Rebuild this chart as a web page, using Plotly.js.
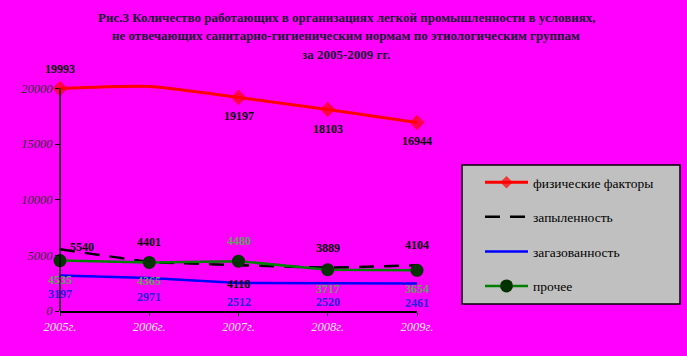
<!DOCTYPE html>
<html><head><meta charset="utf-8">
<script src="https://cdn.plot.ly/plotly-3.0.1.min.js"></script>
<style>html,body{margin:0;padding:0;background:#ff00ff}</style>
</head><body>
<div id="chart" style="width:687px;height:356px"></div>
<script>
// ---- data ----
const years = ['2005г.', '2006г.', '2007г.', '2008г.', '2009г.'];
const physical = [19993, 20180, 19197, 18103, 16944];
const physicalLabels = ['19993', '', '19197', '18103', '16944'];
const dust = [5540, 4401, 4118, 3889, 4104];
const gas = [3197, 2971, 2512, 2520, 2461];
const other = [4535, 4365, 4480, 3717, 3654];
const seriesNames = ['физические факторы', 'запыленность', 'загазованность', 'прочее'];
const titleLines = [
  'Рис.3 Количество работающих в организациях легкой промышленности в условиях,',
  'не отвечающих санитарно-гигиеническим нормам по этиологическим группам',
  'за 2005-2009 гг.'
];
const yTicks = [0, 5000, 10000, 15000, 20000];
const yTickText = ['0', '5000', '10000', '15000', '20000'];
const yMax = 20000;

// ---- style / layout config ----
const W = 687, H = 356, L = 60, R = 270, B = 45;
const y0px = H - B;           // pixel of value 0
const y20px = 88;             // pixel of value 20000
const yTop = 20400;           // axis range top (room for spline overshoot)
const T = Math.round(y0px - (y0px - y20px) * yTop / 20000);
const PW = W - L - R, PH = H - T - B;
const px2x = x => (x - L) / PW;
const px2y = y => (H - B - y) / PH;
const serif = '"Liberation Serif", "Times New Roman", serif';

const physPos = ['above', 'below', 'below', 'below', 'below'];
const dustPos = ['right', 'above', 'below', 'above', 'above'];
const otherPos = ['below', 'below', 'above', 'below', 'below'];
const gasPos = ['below', 'below', 'below', 'below', 'below'];

function shiftOf(p) {
  if (p === 'above') return {xs: 0, ys: 20};
  if (p === 'below') return {xs: 0, ys: -19};
  return {xs: 22, ys: 2};
}

const annotations = [];
function addLabels(vals, texts, pos, color) {
  vals.forEach((v, i) => {
    if (texts[i] === '') return;
    const s = shiftOf(pos[i]);
    annotations.push({
      x: years[i], y: v, xref: 'x', yref: 'y', text: texts[i], showarrow: false,
      xshift: s.xs, yshift: s.ys,
      font: {family: serif, size: 12, color: color, weight: 'bold'}
    });
  });
}
addLabels(physical, physicalLabels, physPos, '#000000');
addLabels(dust, dust.map(String), dustPos, '#000000');
addLabels(other, other.map(String), otherPos, '#5fa05f');
addLabels(gas, gas.map(String), gasPos, '#2222dd');

const titleY = [18, 36, 54];
titleLines.forEach((t, i) => {
  annotations.push({
    x: px2x(346), y: px2y(titleY[i]), xref: 'paper', yref: 'paper', text: t,
    showarrow: false, xanchor: 'center', yanchor: 'middle',
    font: {family: serif, size: 13, color: '#15152e', weight: 'bold'}
  });
});

const traces = [
  {x: years, y: physical, name: seriesNames[0], type: 'scatter', mode: 'lines+markers',
   line: {color: '#ff0000', width: 3, shape: 'spline', smoothing: 0.6},
   marker: {symbol: 'diamond', size: [12, 0, 12, 12, 12], color: '#ff0000', line: {width: 0}},
   cliponaxis: false, legendgroup: 'a'},
  {x: years, y: dust, name: seriesNames[1], type: 'scatter', mode: 'lines',
   line: {color: '#000000', width: 2.5, dash: '15px,10px'}, cliponaxis: false, legendgroup: 'b'},
  {x: years, y: gas, name: seriesNames[2], type: 'scatter', mode: 'lines',
   line: {color: '#0000ff', width: 2.5}, cliponaxis: false, legendgroup: 'c'},
  {x: years, y: other, name: seriesNames[3], type: 'scatter', mode: 'lines+markers',
   line: {color: '#008000', width: 2.5},
   marker: {symbol: 'circle', size: 13, color: '#003300', line: {width: 0}},
   cliponaxis: false, legendgroup: 'd'}
];

const layout = {
  width: W, height: H,
  margin: {l: L, r: R, t: T, b: B},
  paper_bgcolor: '#ff00ff', plot_bgcolor: 'rgba(0,0,0,0)',
  showlegend: true,
  legend: {
    x: px2x(480), y: px2y(167), xanchor: 'left', yanchor: 'top',
    bgcolor: 'rgba(0,0,0,0)', borderwidth: 0,
    font: {family: serif, size: 13.5, color: '#000'},
    itemwidth: 43, tracegroupgap: 14, traceorder: 'grouped'
  },
  shapes: [
    {type: 'rect', xref: 'paper', yref: 'paper',
     x0: px2x(462), x1: px2x(680), y0: px2y(304), y1: px2y(165),
     fillcolor: '#c0c0c0', line: {color: '#000000', width: 1.5}, layer: 'below'},
    {type: 'line', xref: 'paper', yref: 'y', x0: 0, x1: 0, y0: 0, y1: yMax,
     line: {color: '#000', width: 1.5}}
  ],
  xaxis: {
    type: 'category', range: [0, 4], showgrid: false, zeroline: false,
    showline: true, linecolor: '#000', linewidth: 1.5,
    ticks: 'outside', ticklen: 3, tickcolor: '#000',
    tickfont: {family: serif, size: 12.5, color: '#e8e8e8', style: 'italic'}
  },
  yaxis: {
    range: [0, yTop], showgrid: false, zeroline: false,
    showline: false,
    ticks: 'outside', ticklen: 4, tickcolor: '#000',
    tickvals: yTicks, ticktext: yTickText,
    tickfont: {family: serif, size: 12.5, color: '#333333', style: 'italic'}
  },
  annotations: annotations
};

Plotly.newPlot('chart', traces, layout, {displayModeBar: false, staticPlot: true});
</script>
</body></html>
